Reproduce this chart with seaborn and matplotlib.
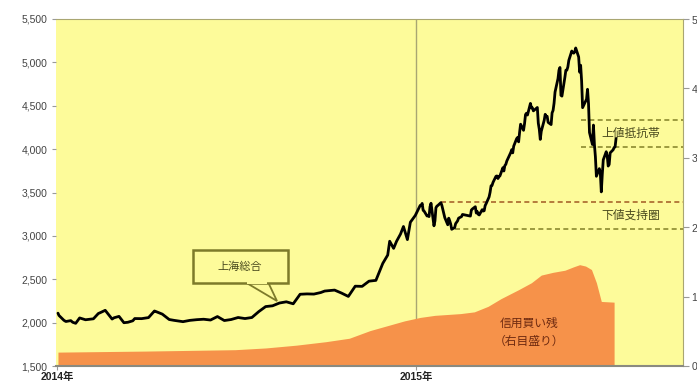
import matplotlib
matplotlib.use("Agg")
import matplotlib.pyplot as plt
import seaborn as sns
import pandas as pd
from matplotlib.patches import Rectangle, Polygon

sns.set_style("white")
plt.rcParams['font.family'] = ['Liberation Sans', 'Noto Sans CJK JP']

# ---------------- data ----------------
sse_dates = [
    "2014-01-02", "2014-01-03", "2014-01-08", "2014-01-10", "2014-01-15", "2014-01-17", "2014-01-20",
    "2014-01-24", "2014-01-30", "2014-02-07", "2014-02-12", "2014-02-14", "2014-02-19", "2014-02-21",
    "2014-02-26", "2014-02-28", "2014-03-05", "2014-03-10", "2014-03-14", "2014-03-19", "2014-03-21",
    "2014-03-28", "2014-04-04", "2014-04-10", "2014-04-11", "2014-04-18", "2014-04-25", "2014-04-30",
    "2014-05-09", "2014-05-16", "2014-05-23", "2014-05-30", "2014-06-06", "2014-06-13", "2014-06-20",
    "2014-06-27", "2014-07-04", "2014-07-11", "2014-07-18", "2014-07-25", "2014-08-01", "2014-08-08",
    "2014-08-15", "2014-08-22", "2014-08-29", "2014-09-05", "2014-09-12", "2014-09-19", "2014-09-26",
    "2014-09-30", "2014-10-10", "2014-10-17", "2014-10-24", "2014-10-31", "2014-11-07", "2014-11-14",
    "2014-11-21", "2014-11-28", "2014-12-03", "2014-12-05", "2014-12-09", "2014-12-12", "2014-12-16",
    "2014-12-19", "2014-12-23", "2014-12-26", "2014-12-31",
    "2015-01-05", "2015-01-06", "2015-01-07", "2015-01-08", "2015-01-09", "2015-01-12", "2015-01-13",
    "2015-01-14", "2015-01-15", "2015-01-16", "2015-01-19", "2015-01-20", "2015-01-21", "2015-01-22",
    "2015-01-23", "2015-01-26", "2015-01-27", "2015-01-28", "2015-01-29", "2015-01-30", "2015-02-02",
    "2015-02-03", "2015-02-04", "2015-02-05", "2015-02-06", "2015-02-09", "2015-02-10", "2015-02-11",
    "2015-02-12", "2015-02-13", "2015-02-16", "2015-02-17", "2015-02-25", "2015-02-26", "2015-02-27",
    "2015-03-02", "2015-03-03", "2015-03-04", "2015-03-05", "2015-03-06", "2015-03-09", "2015-03-10",
    "2015-03-11", "2015-03-12", "2015-03-13", "2015-03-16", "2015-03-17", "2015-03-18", "2015-03-19",
    "2015-03-20", "2015-03-23", "2015-03-24", "2015-03-25", "2015-03-26", "2015-03-27", "2015-03-30",
    "2015-03-31", "2015-04-01", "2015-04-02", "2015-04-03", "2015-04-07", "2015-04-08", "2015-04-09",
    "2015-04-10", "2015-04-13", "2015-04-14", "2015-04-15", "2015-04-16", "2015-04-17", "2015-04-20",
    "2015-04-21", "2015-04-22", "2015-04-23", "2015-04-24", "2015-04-27", "2015-04-28", "2015-04-29",
    "2015-04-30", "2015-05-04", "2015-05-05", "2015-05-06", "2015-05-07", "2015-05-08", "2015-05-11",
    "2015-05-12", "2015-05-13", "2015-05-14", "2015-05-15", "2015-05-18", "2015-05-19", "2015-05-20",
    "2015-05-21", "2015-05-22", "2015-05-25", "2015-05-26", "2015-05-27", "2015-05-28", "2015-05-29",
    "2015-06-01", "2015-06-02", "2015-06-03", "2015-06-04", "2015-06-05", "2015-06-08", "2015-06-09",
    "2015-06-10", "2015-06-11", "2015-06-12", "2015-06-15", "2015-06-16", "2015-06-17", "2015-06-18",
    "2015-06-19", "2015-06-23", "2015-06-24", "2015-06-25", "2015-06-26", "2015-06-29", "2015-06-30",
    "2015-07-01", "2015-07-02", "2015-07-03", "2015-07-06", "2015-07-07", "2015-07-08", "2015-07-09",
    "2015-07-10", "2015-07-13", "2015-07-14", "2015-07-15", "2015-07-16", "2015-07-17", "2015-07-20",
    "2015-07-21", "2015-07-22", "2015-07-23",
]
sse_close = [
    2109, 2083, 2027, 2013, 2023, 2004, 1992,
    2054, 2033, 2044, 2105, 2115, 2142, 2113,
    2041, 2056, 2072, 1999, 2004, 2021, 2047,
    2046, 2058, 2134, 2130, 2098, 2036, 2026,
    2011, 2026, 2034, 2039, 2030, 2070, 2024,
    2036, 2059, 2047, 2059, 2127, 2185, 2194,
    2226, 2240, 2217, 2327, 2331, 2329, 2347,
    2364, 2375, 2341, 2302, 2420, 2418, 2478,
    2487, 2683, 2779, 2938, 2856, 2938, 3021,
    3108, 2957, 3157, 3235,
    3351, 3352, 3374, 3294, 3285, 3229, 3235,
    3222, 3336, 3376, 3116, 3173, 3324, 3343,
    3351, 3383, 3352, 3305, 3262, 3210, 3128,
    3204, 3174, 3136, 3076, 3095, 3141, 3158,
    3173, 3204, 3222, 3247, 3228, 3298, 3310,
    3336, 3263, 3280, 3248, 3241, 3302, 3286,
    3290, 3349, 3372, 3449, 3502, 3577, 3582,
    3617, 3687, 3691, 3661, 3682, 3691, 3786,
    3748, 3810, 3825, 3863, 3961, 3994, 3957,
    4034, 4121, 4135, 4084, 4194, 4287, 4217,
    4293, 4398, 4414, 4393, 4527, 4476, 4476,
    4441, 4480, 4298, 4229, 4112, 4205, 4333,
    4401, 4375, 4378, 4308, 4283, 4418, 4446,
    4529, 4658, 4813, 4910, 4941, 4620, 4611,
    4828, 4910, 4910, 4947, 5023, 5131, 5113,
    5106, 5121, 5166, 5062, 4887, 4967, 4785,
    4478, 4576, 4690, 4527, 4192, 4053, 4277,
    4053, 3912, 3687, 3775, 3727, 3507, 3710,
    3877, 3970, 3924, 3805, 3823, 3957, 3992,
    4017, 4026, 4124,
]

margin_dates = [
    "2014-01-02", "2014-04-01", "2014-07-01", "2014-08-01", "2014-09-01", "2014-10-01",
    "2014-10-25", "2014-11-15", "2014-12-05", "2014-12-20", "2015-01-05", "2015-01-20",
    "2015-02-15", "2015-03-01", "2015-03-15", "2015-03-28", "2015-04-15", "2015-04-28",
    "2015-05-08", "2015-05-20", "2015-06-01", "2015-06-10", "2015-06-16", "2015-06-22",
    "2015-06-28", "2015-07-03", "2015-07-08", "2015-07-21",
]
margin_value = [
    2000, 2150, 2350, 2600, 3000, 3500,
    4000, 5100, 5900, 6500, 7000, 7300,
    7550, 7800, 8600, 9700, 11000, 12000,
    13100, 13500, 13800, 14300, 14600, 14400,
    13900, 12000, 9300, 9200,
]

support_band = [3390, 3080]
support_start = ["2015-01-26", "2015-02-09"]
resist_band = [4330, 4030]
resist_start = ["2015-06-17", "2015-06-17"]

left_ticks = [1500, 2000, 2500, 3000, 3500, 4000, 4500, 5000, 5500]
right_ticks = [0, 10000, 20000, 30000, 40000, 50000]
year_ticks = ["2014-01-01", "2015-01-01"]
year_labels = ["2014年", "2015年"]

df = pd.DataFrame({"date": pd.to_datetime(sse_dates), "close": sse_close})
mg = pd.DataFrame({"date": pd.to_datetime(margin_dates), "value": margin_value})

# ---------------- style ----------------
YELLOW = "#fdfb9a"
ORANGE = "#f6924a"
OLIVE = "#a9a672"
TXT = "#4a4a1e"

W, H = 697, 392
fig = plt.figure(figsize=(W / 100, H / 100), dpi=100)
fig.patch.set_facecolor("white")
L, R, T, B = 56, 683, 19, 366
ax = fig.add_axes([L / W, 1 - B / H, (R - L) / W, (B - T) / H])
ax2 = ax.twinx()
ax.set_zorder(2)
ax2.set_zorder(1)
ax.patch.set_visible(False)
ax2.patch.set_visible(True)
ax2.patch.set_facecolor(YELLOW)

xmin, xmax = pd.Timestamp("2013-12-31"), pd.Timestamp("2015-09-29")

# margin balance (right scale)
ax2.fill_between(mg["date"], 0, mg["value"], color=ORANGE, lw=0, zorder=2)
ax2.axvline(pd.Timestamp("2015-01-01"), color=OLIVE, lw=1, zorder=1)
ax2.set_ylim(0, 50000)
ax2.set_yticks(right_ticks)
ax2.set_yticklabels([f"{v:,}" for v in right_ticks], fontsize=7.5, color="#444444")
ax2.tick_params(axis="y", length=4, width=0.8, color="#999999", pad=2)

# index line (left scale)
sns.lineplot(data=df, x="date", y="close", ax=ax, color="black", lw=2, zorder=5)
ax.set_xlim(xmin, xmax)
ax.set_ylim(1500, 5500)
ax.set_yticks(left_ticks)
ax.set_yticklabels([f"{v:,}" for v in left_ticks], fontsize=7.5, color="#444444")
ax.tick_params(axis="y", length=3, width=0.8, color="#999999", pad=3, left=True)
ax.set_xticks(pd.to_datetime(year_ticks))
ax.set_xticklabels(year_labels, fontsize=7.5, fontweight="bold", color="#222222")
ax.tick_params(axis="x", length=3, width=0.8, color="#999999", pad=1, bottom=True)
ax.set_xlabel("")
ax.set_ylabel("")

# support / resistance bands
for val, st, col in zip(support_band, support_start, ["#a8662c", "#8c8a30"]):
    ax.plot([pd.Timestamp(st), xmax], [val, val], ls=(0, (3, 2)), color=col, lw=1.2, zorder=4)
for val, st in zip(resist_band, resist_start):
    ax.plot([pd.Timestamp(st), xmax], [val, val], ls=(0, (3, 2)), color="#8c8a30", lw=1.2, zorder=4)

for a in (ax, ax2):
    for s in a.spines.values():
        s.set_visible(False)
ax.spines["top"].set_visible(True)
ax.spines["top"].set_color(OLIVE)
ax.spines["right"].set_visible(True)
ax.spines["right"].set_color(OLIVE)
ax.spines["bottom"].set_visible(True)
ax.spines["bottom"].set_color("#8a8a80")
ax.spines["bottom"].set_linewidth(1.5)

# annotations (figure pixel positions)
def fx(x):
    return x / W

def fy(y):
    return 1 - y / H

fig.text(fx(631), fy(133), "上値抵抗帯", fontsize=8.5, color=TXT, ha="center", va="center",
         family=["Noto Sans CJK JP"], zorder=10)
fig.text(fx(631), fy(215), "下値支持圏", fontsize=8.5, color=TXT, ha="center", va="center",
         family=["Noto Sans CJK JP"], zorder=10)

# callout for index
tail = Polygon([(fx(245), fy(282)), (fx(277), fy(301)), (fx(268), fy(282))], closed=True,
               transform=fig.transFigure, facecolor=YELLOW, edgecolor="#7d7a2a", lw=1.3,
               zorder=6, clip_on=False)
box = Rectangle((fx(193), fy(283)), fx(288) - fx(193), fy(250) - fy(283),
                transform=fig.transFigure, facecolor=YELLOW, edgecolor="#7d7a2a", lw=1.8,
                zorder=7, clip_on=False)
ax.add_patch(tail)
ax.add_patch(box)
ax.add_patch(Rectangle((fx(246.5), fy(284)), fx(266.5) - fx(246.5), fy(281) - fy(284),
                       transform=fig.transFigure, facecolor=YELLOW, edgecolor="none",
                       zorder=8, clip_on=False))
fig.text(fx(240), fy(267), "上海総合", fontsize=8, color=TXT, ha="center", va="center",
         family=["Noto Sans CJK JP"], zorder=10)

fig.text(fx(529), fy(323), "信用買い残", fontsize=8.5, color="#6e2a10", ha="center", va="center",
         family=["Noto Sans CJK JP"], zorder=10)
fig.text(fx(529), fy(341), "（右目盛り）", fontsize=8.5, color="#6e2a10", ha="center", va="center",
         family=["Noto Sans CJK JP"], zorder=10)

fig.savefig("out.png", dpi=100)
